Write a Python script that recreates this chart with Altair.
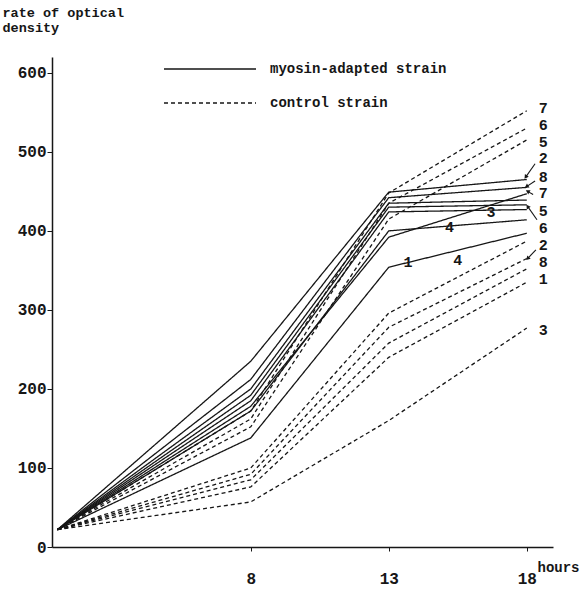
import math
import altair as alt
import pandas as pd

# ---------------- data ----------------
HOURS = [1, 8, 13, 18]

# myosin-adapted strains (solid lines), values at HOURS
MYOSIN_1 = [22, 138, 354, 397]
MYOSIN_2 = [22, 235, 449, 465]
MYOSIN_3 = [22, 185, 424, 427]
MYOSIN_4 = [22, 172, 400, 414]
MYOSIN_5 = [22, 200, 435, 439]
MYOSIN_6 = [22, 192, 430, 433]
MYOSIN_7 = [22, 178, 392, 447]
MYOSIN_8 = [22, 212, 442, 455]

# control strains (dashed lines), values at HOURS
CONTROL_1 = [22, 76, 240, 335]
CONTROL_2 = [22, 92, 278, 365]
CONTROL_3 = [22, 57, 160, 277]
CONTROL_4 = [22, 100, 296, 387]
CONTROL_5 = [22, 152, 415, 515]
CONTROL_6 = [22, 162, 435, 530]
CONTROL_7 = [22, 172, 448, 552]
CONTROL_8 = [22, 85, 258, 352]

SERIES = ["myosin-adapted strain", "control strain"]

# labels at the right-hand end
END_LABELS = ["7", "6", "5", "2", "8", "7", "5", "6", "2", "8", "1", "3"]
END_LABEL_VALUES = [556, 534, 513, 492, 468, 448, 425, 404, 382, 361, 339, 275]
END_LABEL_HOUR = 18.6

# labels written on the lines
INLINE_LABELS = ["1", "4", "3", "4"]
INLINE_HOURS = [13.7, 15.2, 16.7, 15.5]
INLINE_VALUES = [361, 405, 424, 363]

# little arrows from labels to line ends (label end -> tip)
ARROW_FROM_HOUR = [18.30, 18.30, 18.23, 18.37, 18.33]
ARROW_FROM_VALUE = [485, 463, 446, 414, 376]
ARROW_TO_HOUR = [17.96, 17.99, 18.03, 18.03, 18.03]
ARROW_TO_VALUE = [468, 456, 450, 431, 365]

Y_TICKS = [0, 100, 200, 300, 400, 500, 600]
X_TICKS = [8, 13, 18]

# ---------------- tables ----------------
rows = []
myo = [MYOSIN_1, MYOSIN_2, MYOSIN_3, MYOSIN_4, MYOSIN_5, MYOSIN_6, MYOSIN_7, MYOSIN_8]
con = [CONTROL_1, CONTROL_2, CONTROL_3, CONTROL_4, CONTROL_5, CONTROL_6, CONTROL_7, CONTROL_8]
for i, vals in enumerate(myo):
    for h, v in zip(HOURS, vals):
        rows.append({"strain": SERIES[0], "line": f"m{i+1}", "hour": h, "value": v})
for i, vals in enumerate(con):
    for h, v in zip(HOURS, vals):
        rows.append({"strain": SERIES[1], "line": f"c{i+1}", "hour": h, "value": v})
df = pd.DataFrame(rows)

X_DOMAIN = [0.8, 18.95]
Y_DOMAIN = [0, 620]
W, H = 501, 490

end_df = pd.DataFrame({"hour": [END_LABEL_HOUR] * len(END_LABELS),
                       "value": END_LABEL_VALUES, "text": END_LABELS})
inl_df = pd.DataFrame({"hour": INLINE_HOURS, "value": INLINE_VALUES, "text": INLINE_LABELS})

# arrow-head direction (screen degrees, clockwise from up)
px_h = W / (X_DOMAIN[1] - X_DOMAIN[0])
px_v = H / (Y_DOMAIN[1] - Y_DOMAIN[0])
angles = []
for h1, v1, h2, v2 in zip(ARROW_FROM_HOUR, ARROW_FROM_VALUE, ARROW_TO_HOUR, ARROW_TO_VALUE):
    dx = (h2 - h1) * px_h
    dy = -(v2 - v1) * px_v
    angles.append(math.degrees(math.atan2(dx, -dy)) % 360)
arr_df = pd.DataFrame({"hour": ARROW_FROM_HOUR, "value": ARROW_FROM_VALUE,
                       "hour2": ARROW_TO_HOUR, "value2": ARROW_TO_VALUE, "angle": angles})

FONT = "Liberation Mono"
INK = "#161616"

x_scale = alt.Scale(domain=X_DOMAIN, nice=False, zero=False)
y_scale = alt.Scale(domain=Y_DOMAIN, nice=False, zero=False)

lines = alt.Chart(df).mark_line(strokeWidth=1.3, color=INK).encode(
    x=alt.X("hour:Q", scale=x_scale,
            axis=alt.Axis(values=X_TICKS, title="hours", grid=False,
                          domainColor=INK, domainWidth=1.5, tickColor=INK, tickSize=4,
                          labelFont=FONT, labelFontSize=16, labelColor=INK,
                          labelFontWeight="bold",
                          labelPadding=19, labelFlush=False,
                          titleFont=FONT, titleFontSize=14, titleFontWeight="bold",
                          titleColor=INK, titleX=506, titleY=20,
                          titleAlign="center", titleBaseline="middle")),
    y=alt.Y("value:Q", scale=y_scale,
            axis=alt.Axis(values=Y_TICKS, title=["rate of optical", "density"], grid=False,
                          domainColor=INK, domainWidth=1.5, tickColor=INK, tickSize=5,
                          labelFont=FONT, labelFontSize=16, labelColor=INK,
                          labelFontWeight="bold", labelPadding=1,
                          titleFont=FONT, titleFontSize=13.5, titleFontWeight="bold",
                          titleColor=INK, titleAngle=0, titleAlign="left",
                          titleBaseline="top", titleX=-50, titleY=-52, titleLineHeight=15)),
    strokeDash=alt.StrokeDash(
        "strain:N",
        scale=alt.Scale(domain=SERIES, range=[[1, 0], [4, 3]]),
        legend=alt.Legend(orient="none", legendX=111, legendY=2, title=None,
                          symbolType="stroke", symbolSize=8464, symbolStrokeWidth=1.3,
                          symbolStrokeColor=INK, clipHeight=20, rowPadding=14,
                          labelOffset=13, labelFont=FONT, labelFontSize=14,
                          labelFontWeight="bold",
                          labelColor=INK, labelLimit=400, padding=0)),
    detail="line:N",
)

end_text = alt.Chart(end_df).mark_text(font=FONT, fontSize=15, fontWeight="bold", color=INK,
                                       align="center", baseline="middle").encode(
    x=alt.X("hour:Q", scale=x_scale), y=alt.Y("value:Q", scale=y_scale), text="text:N")

inl_text = alt.Chart(inl_df).mark_text(font=FONT, fontSize=15, fontWeight="bold", color=INK,
                                       align="center", baseline="middle").encode(
    x=alt.X("hour:Q", scale=x_scale), y=alt.Y("value:Q", scale=y_scale), text="text:N")

arrows = alt.Chart(arr_df).mark_rule(color=INK, strokeWidth=1.1).encode(
    x=alt.X("hour:Q", scale=x_scale), y=alt.Y("value:Q", scale=y_scale),
    x2="hour2:Q", y2="value2:Q")

heads = alt.Chart(arr_df).mark_point(shape="triangle-up", filled=True, color=INK,
                                     size=22, opacity=1).encode(
    x=alt.X("hour2:Q", scale=x_scale), y=alt.Y("value2:Q", scale=y_scale),
    angle=alt.Angle("angle:Q", scale=None))

chart = alt.layer(lines, arrows, heads, end_text, inl_text).properties(
    width=W, height=H,
    autosize=alt.AutoSizeParams(type="none"),
    padding={"left": 52, "top": 57, "right": 30, "bottom": 42},
    background="white",
).configure_view(stroke=None)

chart.save("out.html", embed_options={"renderer": "svg", "actions": False})
